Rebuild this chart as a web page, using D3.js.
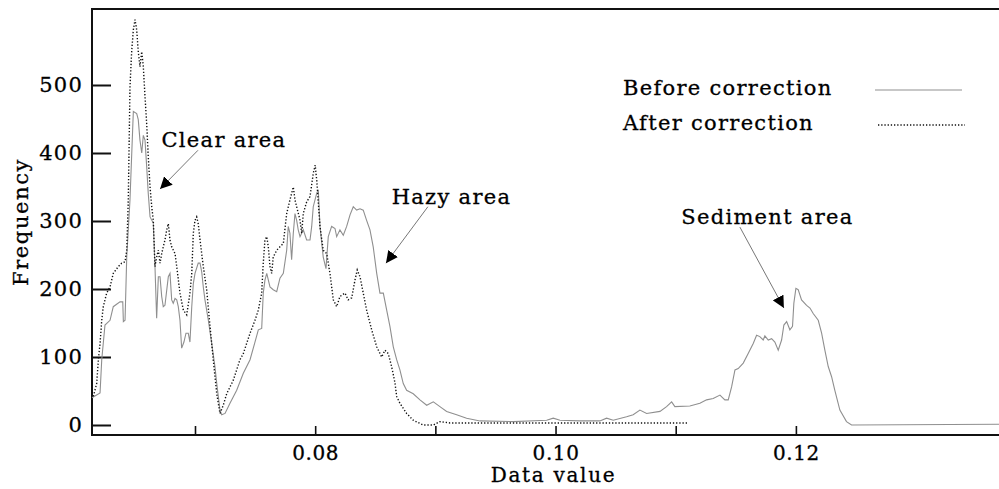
<!DOCTYPE html>
<html><head><meta charset="utf-8">
<script src="https://cdn.jsdelivr.net/npm/d3@7/dist/d3.min.js"></script>
<style>
html,body{margin:0;padding:0;background:#fff;}
svg text{font-family:"DejaVu Serif",serif;fill:#000;stroke:#000;stroke-width:0.3px;}
</style></head>
<body><svg id="chart" width="999" height="489"></svg>
<script>
// ---- data ----
const beforeX = [0.06143,0.06210,0.06224,0.06251,0.06293,0.06320,0.06376,0.06399,0.06404,0.06418,0.06432,0.06459,0.06487,0.06515,0.06528,0.06542,0.06557,0.06570,0.06584,0.06598,0.06611,0.06626,0.06653,0.06667,0.06681,0.06695,0.06709,0.06723,0.06736,0.06750,0.06778,0.06792,0.06806,0.06819,0.06834,0.06848,0.06861,0.06875,0.06889,0.06908,0.06925,0.06944,0.06958,0.06973,0.06986,0.07000,0.07027,0.07042,0.07056,0.07069,0.07083,0.07111,0.07139,0.07166,0.07181,0.07208,0.07222,0.07250,0.07291,0.07347,0.07402,0.07458,0.07499,0.07527,0.07555,0.07568,0.07582,0.07597,0.07624,0.07651,0.07680,0.07707,0.07735,0.07763,0.07776,0.07790,0.07804,0.07818,0.07832,0.07846,0.07859,0.07874,0.07901,0.07929,0.07957,0.07971,0.07984,0.08013,0.08026,0.08040,0.08067,0.08090,0.08109,0.08137,0.08165,0.08179,0.08206,0.08234,0.08262,0.08290,0.08317,0.08345,0.08373,0.08400,0.08428,0.08456,0.08483,0.08512,0.08539,0.08567,0.08595,0.08622,0.08650,0.08678,0.08705,0.08733,0.08761,0.08816,0.08872,0.08928,0.08983,0.09038,0.09094,0.09177,0.09260,0.09371,0.09648,0.09926,0.09981,0.10037,0.10203,0.10369,0.10425,0.10480,0.10591,0.10646,0.10702,0.10758,0.10869,0.10924,0.10966,0.10993,0.11118,0.11201,0.11257,0.11312,0.11368,0.11409,0.11437,0.11465,0.11493,0.11520,0.11562,0.11603,0.11645,0.11673,0.11700,0.11728,0.11742,0.11770,0.11798,0.11825,0.11853,0.11881,0.11900,0.11923,0.11950,0.11972,0.11983,0.12000,0.12019,0.12047,0.12089,0.12117,0.12144,0.12186,0.12214,0.12241,0.12269,0.12297,0.12324,0.12366,0.12421,0.12463,0.1369];
const beforeY = [40,47,96,147,154,174,181,181,152,154,247,331,461,458,449,419,400,426,419,380,341,306,297,233,157,218,218,189,174,176,218,223,184,179,186,184,174,154,113,122,135,135,122,174,208,223,238,238,225,203,184,154,120,86,61,22,15,17,32,51,76,96,122,140,142,194,213,223,203,199,196,216,223,257,292,282,243,282,311,301,287,277,287,272,272,292,321,341,346,292,247,230,277,292,289,277,287,279,292,309,321,316,318,316,301,287,262,223,194,194,169,145,115,96,81,61,51,46,37,29,34,27,20,15,10,6,5,7,10,7,6,6,10,7,12,15,22,17,20,27,34,27,28,32,37,39,44,37,37,56,81,83,91,105,120,132,130,125,131,125,127,122,110,125,147,152,140,145,179,201,199,184,176,172,164,154,135,110,86,71,51,22,5,0,1];

const afterX = [0.06154,0.06182,0.06196,0.06210,0.06224,0.06237,0.06265,0.06293,0.06320,0.06362,0.06390,0.06418,0.06432,0.06445,0.06459,0.06473,0.06487,0.06501,0.06515,0.06528,0.06542,0.06557,0.06570,0.06584,0.06598,0.06611,0.06626,0.06640,0.06653,0.06667,0.06681,0.06695,0.06709,0.06723,0.06736,0.06750,0.06765,0.06778,0.06792,0.06806,0.06834,0.06848,0.06875,0.06903,0.06931,0.06958,0.06973,0.06986,0.07000,0.07014,0.07027,0.07042,0.07069,0.07097,0.07125,0.07152,0.07181,0.07208,0.07235,0.07264,0.07319,0.07374,0.07402,0.07430,0.07458,0.07499,0.07527,0.07555,0.07568,0.07582,0.07597,0.07610,0.07624,0.07638,0.07651,0.07680,0.07707,0.07735,0.07763,0.07790,0.07818,0.07832,0.07846,0.07874,0.07888,0.07901,0.07929,0.07957,0.07984,0.08000,0.08013,0.08040,0.08067,0.08096,0.08123,0.08151,0.08179,0.08206,0.08248,0.08275,0.08304,0.08331,0.08350,0.08373,0.08400,0.08428,0.08470,0.08512,0.08553,0.08581,0.08608,0.08636,0.08664,0.08678,0.08705,0.08761,0.08816,0.08899,0.08983,0.09038,0.09122,0.09538,0.10369,0.11102];
const afterY = [42,61,96,120,154,174,194,203,223,233,238,240,257,331,497,549,581,596,581,549,527,549,527,483,443,395,350,321,301,233,247,257,238,252,262,272,287,296,272,262,252,233,194,169,162,194,223,282,301,306,296,272,233,199,145,96,46,17,29,46,66,96,105,120,135,154,169,194,238,272,277,262,233,223,247,257,262,267,311,331,350,331,321,301,282,311,328,336,370,382,360,292,257,252,223,184,174,189,194,184,187,213,228,218,194,169,140,115,100,110,105,86,62,42,32,17,7,0,0,5,3,3,3,3];

const xTicks = [0.07,0.08,0.09,0.10,0.11,0.12];
const xTickLabels = ["", "0.08", "", "0.10", "", "0.12"];
const yTicks = [0,100,200,300,400,500];
const seriesNames = ["Before correction","After correction"];
const annotations = [
  {label:"Clear area",    tx:0.07241, ty:419, x1:0.07025, y1:404, x2:0.06709, y2:347},
  {label:"Hazy area",     tx:0.09134, ty:335, x1:0.08938, y1:321, x2:0.08589, y2:238},
  {label:"Sediment area", tx:0.11763, ty:306, x1:0.11534, y1:291, x2:0.11900, y2:172}
];

// ---- layout ----
const svg = d3.select("#chart");
const L = 92, R = 999, T = 9, B = 435;
const FS = 21, LS = 1.3;
const x = d3.scaleLinear().domain([0.06143, 0.1369]).range([L, R]);
const y = d3.scaleLinear().domain([0, 500]).range([425, 85]);

// frame
svg.append("line").attr("x1",L).attr("x2",R).attr("y1",T).attr("y2",T).attr("stroke","#111").attr("stroke-width",2);
svg.append("line").attr("x1",L).attr("x2",L).attr("y1",T-1).attr("y2",B+1).attr("stroke","#111").attr("stroke-width",2);
svg.append("line").attr("x1",L-1).attr("x2",R).attr("y1",B).attr("y2",B).attr("stroke","#111").attr("stroke-width",2);

// y axis
const yAxis = d3.axisLeft(y).tickValues(yTicks).tickSize(0).tickPadding(9).tickFormat(d3.format("d"));
const gy = svg.append("g").attr("transform",`translate(${L},0)`).call(yAxis);
gy.select(".domain").remove();
gy.selectAll("text").attr("font-size",FS).attr("font-family","DejaVu Serif").attr("fill","#000").attr("letter-spacing",1.2);
gy.selectAll(".tick").append("line").attr("x1",0).attr("x2",19).attr("stroke","#111").attr("stroke-width",2);

// x axis
const xAxis = d3.axisBottom(x).tickValues(xTicks).tickSize(0).tickPadding(11)
  .tickFormat((d,i)=>xTickLabels[i]);
const gx = svg.append("g").attr("transform",`translate(0,${B})`).call(xAxis);
gx.select(".domain").remove();
gx.selectAll("text").attr("font-size",FS-1).attr("font-family","DejaVu Serif").attr("fill","#000").attr("letter-spacing",0.6);
gx.selectAll(".tick").append("line").attr("y1",0).attr("y2",-9).attr("stroke","#111").attr("stroke-width",1.6);

// axis titles
svg.append("text").attr("x", x(0.09983)).attr("y", 482).attr("text-anchor","middle").attr("font-size",FS-1).attr("letter-spacing",LS+0.4).text("Data value");
svg.append("text").attr("transform",`translate(28,${222}) rotate(-90)`).attr("text-anchor","middle").attr("font-size",FS).attr("letter-spacing",LS+0.3).text("Frequency");

// series
const line = d3.line().x(d=>x(d[0])).y(d=>y(d[1]));
const beforeData = beforeX.map((v,i)=>[v,beforeY[i]]);
const afterData = afterX.map((v,i)=>[v,afterY[i]]);
svg.append("path").datum(beforeData).attr("d",line).attr("fill","none").attr("stroke","#8f8f8f").attr("stroke-width",1.1);
svg.append("path").datum(afterData).attr("d",line).attr("fill","none").attr("stroke","#111").attr("stroke-width",1.4).attr("stroke-dasharray","1.3,1.9");

// legend
const lg = svg.append("g");
lg.append("text").attr("x",623).attr("y",95).attr("font-size",FS).attr("letter-spacing",LS).text(seriesNames[0]);
lg.append("text").attr("x",623).attr("y",130).attr("font-size",FS).attr("letter-spacing",LS).text(seriesNames[1]);
lg.append("line").attr("x1",875).attr("x2",962).attr("y1",90).attr("y2",90).attr("stroke","#8f8f8f").attr("stroke-width",1.1);
lg.append("line").attr("x1",878).attr("x2",965).attr("y1",125).attr("y2",125).attr("stroke","#111").attr("stroke-width",1.4).attr("stroke-dasharray","1.3,1.9");

// annotations
svg.append("defs").append("marker").attr("id","ah").attr("viewBox","0 0 10 10").attr("refX",10).attr("refY",5)
  .attr("markerWidth",12).attr("markerHeight",12).attr("markerUnits","userSpaceOnUse").attr("orient","auto")
  .append("path").attr("d","M0,0 L10,5 L0,10 Z").attr("fill","#000");
annotations.forEach(a=>{
  svg.append("text").attr("x",x(a.tx)).attr("y",y(a.ty)+7).attr("text-anchor","middle").attr("font-size",FS).attr("letter-spacing",LS).text(a.label);
  svg.append("line").attr("x1",x(a.x1)).attr("y1",y(a.y1)).attr("x2",x(a.x2)).attr("y2",y(a.y2))
    .attr("stroke","#777").attr("stroke-width",1).attr("marker-end","url(#ah)");
});
</script></body></html>
